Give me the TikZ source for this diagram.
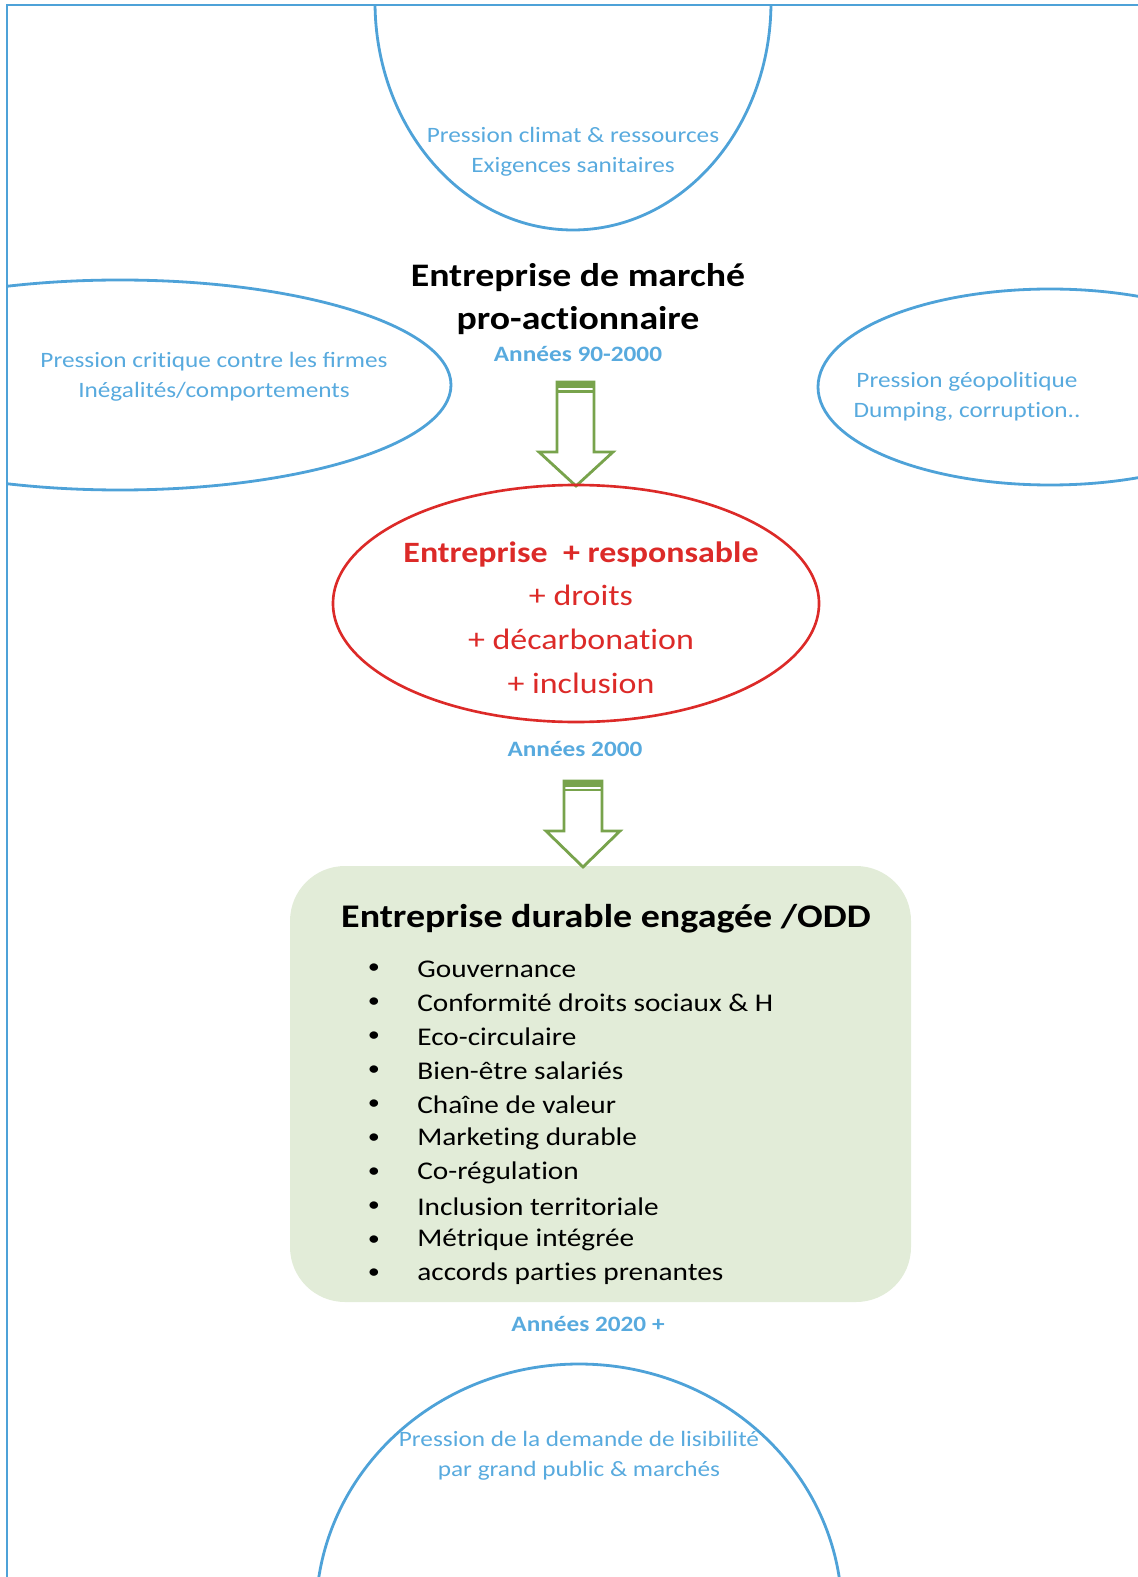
\documentclass[tikz,border=0pt]{standalone}
\usepackage{fontspec}
\setmainfont{Carlito}[FakeStretch=1.15]
\usetikzlibrary{positioning}
% pas de ligature "ti"
\XeTeXinterchartokenstate=1
\newXeTeXintercharclass\classt
\newXeTeXintercharclass\classi
\XeTeXcharclass`t=\classt
\XeTeXcharclass`i=\classi
\XeTeXinterchartoks\classt\classi={\kern0pt}
\definecolor{pblue}{RGB}{78,162,216}
\definecolor{tblue}{RGB}{88,170,222}
\definecolor{rred}{RGB}{220,42,40}
\definecolor{agreen}{RGB}{120,163,76}
\definecolor{bgreen}{RGB}{226,236,216}
\tikzset{
  press/.style={font=\fontsize{12.5}{17}\selectfont,text=tblue,align=center},
  annee/.style={font=\fontsize{12.5}{15}\bfseries\selectfont,text=tblue},
  presline/.style={draw=pblue,line width=1.6pt},
  bloc/.style={draw=agreen,fill=white,line width=1.6pt,line join=miter},
  item/.style={font=\fontsize{14.5}{18}\selectfont,anchor=west,inner sep=0pt},
  puce/.style={font=\fontsize{12}{18}\selectfont}
}
\begin{document}
\begin{tikzpicture}[x=0.02cm,y=-0.02cm]
\useasboundingbox (0,0) rectangle (1138,1577);

% pressions (ellipses coupees par le cadre)
\begin{scope}
\clip (7,5) rectangle (1138,1577);
\draw[presline] (573,2) ellipse [x radius=198,y radius=228];
\draw[presline] (120,385) ellipse [x radius=331,y radius=105];
\draw[presline] (1050,387) ellipse [x radius=232,y radius=98];
\draw[presline] (579,1614) ellipse [x radius=263,y radius=250];
\end{scope}
\draw[pblue,line width=1.2pt] (1138,5) -- (7,5) -- (7,1577);

\node[press] (climat) at (573,152) {Pression climat \& ressources\\Exigences sanitaires};
\node[press] (critique) at (214,377) {Pression critique contre les firmes\\Inégalités/comportements};
\node[press] (geopol) at (967,397) {Pression géopolitique\\Dumping, corruption..};
\node[press] (lisib) at (579,1456) {Pression de la demande de lisibilité\\par grand public \& marchés};

% etape 1
\node[font=\fontsize{18.7}{24.5}\bfseries\selectfont,align=center] (marche) at (578,299) {Entreprise de marché\\pro-actionnaire};
\node[annee] (a90) at (578,354) {Années 90-2000};

% fleche 1
\draw[bloc] (557,382) -- (594,382) -- (594,452) -- (613,452) -- (576,486) -- (539,452) -- (557,452) -- cycle;
\fill[agreen] (557,382) rectangle (594,388);
\draw[agreen,line width=1.4pt] (557,391.5) -- (594,391.5);

% etape 2
\draw[rred,line width=1.5pt] (576,603.5) ellipse [x radius=243,y radius=118.5];
\node[font=\fontsize{16.8}{24.9}\selectfont,text=rred,align=center] (respons) at (581,617.5)
  {\textbf{Entreprise\ \ + responsable}\\+ droits\\+ décarbonation\\+ inclusion};
\node[annee] (a2000) at (575,749) {Années 2000};

% etape 3
\fill[bgreen,rounded corners=1.1cm] (290,866) rectangle (911,1302);
\draw[bloc] (564,781) -- (602,781) -- (602,831) -- (620,831) -- (583,867) -- (546,831) -- (564,831) -- cycle;
\fill[agreen] (564,781) rectangle (602,786.5);
\draw[agreen,line width=1.3pt] (564,790) -- (602,790);

\node[font=\fontsize{18.8}{23}\bfseries\selectfont] (odd) at (606,919) {Entreprise durable engagée /ODD};
\foreach \t [count=\i] in {Gouvernance,Conformité droits sociaux \& H,Eco-circulaire,Bien-être salariés,Chaîne de valeur,Marketing durable,Co-régulation,Inclusion territoriale,Métrique intégrée,accords parties prenantes}{
  \node[puce] (puce\i) at (374,{969+33.9*(\i-1)}) {\textbullet};
  \node[item] (item\i) at (417,{969+33.9*(\i-1)}) {\t};
}
\node[annee] (a2020) at (588,1324) {Années 2020 +};

\end{tikzpicture}
\end{document}
